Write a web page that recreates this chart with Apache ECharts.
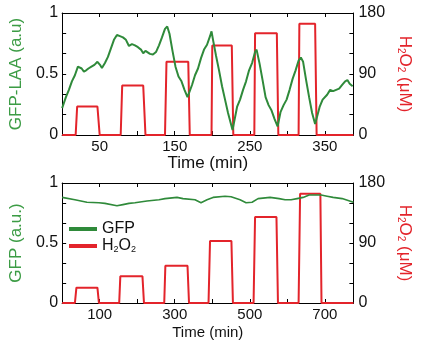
<!DOCTYPE html>
<html>
<head>
<meta charset="utf-8">
<script src="https://cdn.jsdelivr.net/npm/echarts@6/dist/echarts.min.js"></script>
<style>
html,body{margin:0;padding:0;background:#fff;}
#chart{width:421px;height:343px;}
</style>
</head>
<body>
<div id="chart"></div>
<script>
// ---- Top panel: GFP-LAA response to H2O2 pulses ----
const gfpLaaTime = [0,5,9,13,17,21,23,26,29,32,35,39,43,47,51,53,57,61,65,69,73,77,81,85,89,93,97,101,105,108,111,113,117,121,125,129,133,137,140,143,147,151,155,159,163,167,169,173,177,181,185,189,193,197,199,201,205,209,213,217,221,227,229,233,237,241,245,249,253,257,259,263,267,271,275,279,283,287,291,295,299,303,307,311,315,318,321,325,329,333,337,339,343,347,353,357,361,365,369,373,377,380,383,387];
const gfpLaaValue = [0.22,0.31,0.37,0.44,0.49,0.56,0.57,0.545,0.52,0.53,0.545,0.56,0.575,0.6,0.57,0.55,0.59,0.64,0.71,0.78,0.82,0.81,0.8,0.78,0.73,0.745,0.735,0.72,0.70,0.67,0.69,0.68,0.665,0.66,0.68,0.735,0.80,0.87,0.89,0.83,0.69,0.56,0.48,0.44,0.37,0.31,0.30,0.41,0.49,0.545,0.63,0.70,0.74,0.81,0.85,0.78,0.65,0.53,0.40,0.29,0.18,0.04,0.055,0.23,0.29,0.37,0.44,0.53,0.59,0.68,0.70,0.585,0.45,0.31,0.245,0.20,0.13,0.07,0.19,0.245,0.29,0.37,0.46,0.53,0.61,0.635,0.60,0.45,0.31,0.18,0.09,0.10,0.23,0.29,0.33,0.37,0.36,0.37,0.38,0.41,0.44,0.45,0.42,0.40];
const h2o2TopTime = [0,18,20,47,50,78,80,108,111,137,139,168,170,199,200,226,228,256,257,286,288,315,316,337,339,388];
const h2o2TopConc = [0,0,42,42,0,0,73,73,0,0,108,108,0,0,132,132,0,0,150,150,0,0,164,164,0,0];

// ---- Bottom panel: GFP response to H2O2 pulses ----
const gfpTime = [0,34,66,98,114,146,162,178,194,226,258,274,306,322,354,370,386,402,434,450,474,490,506,522,554,578,594,610,626,642,658,674,690,706,722,746,776];
const gfpValue = [0.88,0.86,0.84,0.835,0.83,0.81,0.82,0.83,0.835,0.85,0.86,0.87,0.88,0.87,0.86,0.835,0.86,0.88,0.89,0.885,0.86,0.835,0.84,0.87,0.88,0.87,0.86,0.86,0.87,0.88,0.90,0.90,0.90,0.89,0.88,0.87,0.84];
const h2o2BotTime = [0,34,38,94,98,152,155,214,218,272,275,334,338,390,394,451,455,510,514,571,575,630,634,688,691,776];
const h2o2BotConc = [0,0,23,23,0,0,40,40,0,0,56,56,0,0,93,93,0,0,129,129,0,0,164,164,0,0];

// axis ranges / tick labels
const topXMax = 388, botXMax = 776;
const topXLabels = [50,150,250,350];
const botXLabels = [100,300,500,700];
const leftYLabels = ['0','0.5','1'];
const rightYLabels = [0,90,180];

const GREEN = '#2f8a3a';
const GREEN_TXT = '#3c9c45';
const RED = '#e3242b';
const FONT = "'Liberation Sans', Arial, sans-serif";

const pairs = (a,b) => a.map((v,i)=>[v,b[i]]);

function xAxisBottom(grid, max, interval, labels){
  return {
    type:'value', gridIndex:grid, position:'bottom', min:0, max:max, interval:interval,
    axisLine:{show:true,onZero:false,lineStyle:{color:'#000',width:1}},
    axisTick:{show:true,inside:true,length:4,lineStyle:{color:'#000'}},
    splitLine:{show:false},
    axisLabel:{color:'#111',fontSize:15,fontFamily:FONT,margin:4,showMaxLabel:false,
      formatter:v=> labels.indexOf(Math.round(v))>=0 ? String(Math.round(v)) : ''},
    name:'Time (min)', nameLocation:'middle',
    nameTextStyle:{color:'#111',fontSize:grid===0?17:15,fontFamily:FONT}
  };
}
function xAxisTop(grid, max, interval){
  return {
    type:'value', gridIndex:grid, position:'top', min:0, max:max, interval:interval,
    axisLine:{show:true,onZero:false,lineStyle:{color:'#000',width:1}},
    axisTick:{show:true,inside:true,length:4,lineStyle:{color:'#000'}},
    splitLine:{show:false}, axisLabel:{show:false}
  };
}
function yLeft(grid, name){
  return {
    type:'value', gridIndex:grid, position:'left', min:0, max:1, interval:1/6,
    axisLine:{show:true,onZero:false,lineStyle:{color:'#000',width:1}},
    axisTick:{show:true,inside:true,length:4,lineStyle:{color:'#000'}},
    splitLine:{show:false},
    axisLabel:{color:'#111',fontSize:16,fontFamily:FONT,margin:4,
      formatter:v=>{const k=Math.round(v*6); return k===0?leftYLabels[0]:k===3?leftYLabels[1]:k===6?leftYLabels[2]:'';}},
    name:name, nameLocation:'middle', nameGap:31,
    nameTextStyle:{color:GREEN_TXT,fontSize:17,fontFamily:FONT}
  };
}
function yRight(grid){
  return {
    type:'value', gridIndex:grid, position:'right', min:0, max:180, interval:30,
    axisLine:{show:true,onZero:false,lineStyle:{color:'#000',width:1}},
    axisTick:{show:true,inside:true,length:4,lineStyle:{color:'#000'}},
    splitLine:{show:false},
    axisLabel:{color:'#111',fontSize:16,fontFamily:FONT,margin:5,
      formatter:v=> rightYLabels.indexOf(Math.round(v))>=0 ? String(Math.round(v)) : ''},
    name:'H{s|2}O{s|2} (μM)', nameLocation:'middle', nameGap:31, nameRotate:-90,
    nameTextStyle:{color:RED,fontSize:17,fontFamily:FONT,
      rich:{s:{fontSize:10,color:RED,fontFamily:FONT,padding:[7,0,0,0]}}}
  };
}

const chart = echarts.init(document.getElementById('chart'), null, {renderer:'canvas'});
const xa0 = xAxisBottom(0, topXMax, 50, topXLabels); xa0.nameGap = 20;
const xa2 = xAxisBottom(1, botXMax, 100, botXLabels); xa2.nameGap = 22;

chart.setOption({
  animation:false,
  backgroundColor:'#fff',
  grid:[
    {left:53,right:45,top:13,height:122},
    {left:53,right:45,top:183,height:120}
  ],
  xAxis:[xa0, xAxisTop(0, topXMax, 50), xa2, xAxisTop(1, botXMax, 100)],
  yAxis:[yLeft(0,'GFP-LAA (a.u)'), yRight(0), yLeft(1,'GFP (a.u.)'), yRight(1)],
  legend:{
    show:true, orient:'vertical', left:64, top:216, itemGap:1,
    itemWidth:28, itemHeight:4, icon:'rect',
    data:['GFP','H2O2'],
    textStyle:{color:'#111',fontSize:16,fontFamily:FONT,
      rich:{s:{fontSize:9,color:'#111',fontFamily:FONT,padding:[7,0,0,0]}}},
    formatter:n=> n==='H2O2' ? 'H{s|2}O{s|2}' : n
  },
  series:[
    {name:'GFP-LAA', type:'line', xAxisIndex:0, yAxisIndex:0, data:pairs(gfpLaaTime,gfpLaaValue),
     showSymbol:false, lineStyle:{color:GREEN,width:2}, itemStyle:{color:GREEN}, z:3},
    {name:'H2O2 pulses', type:'line', xAxisIndex:0, yAxisIndex:1, data:pairs(h2o2TopTime,h2o2TopConc),
     showSymbol:false, lineStyle:{color:RED,width:2}, itemStyle:{color:RED}, z:2},
    {name:'GFP', type:'line', xAxisIndex:2, yAxisIndex:2, data:pairs(gfpTime,gfpValue),
     showSymbol:false, lineStyle:{color:GREEN,width:1.6}, itemStyle:{color:GREEN}, z:3},
    {name:'H2O2', type:'line', xAxisIndex:2, yAxisIndex:3, data:pairs(h2o2BotTime,h2o2BotConc),
     showSymbol:false, lineStyle:{color:RED,width:2}, itemStyle:{color:RED}, z:2}
  ]
});
</script>
</body>
</html>
